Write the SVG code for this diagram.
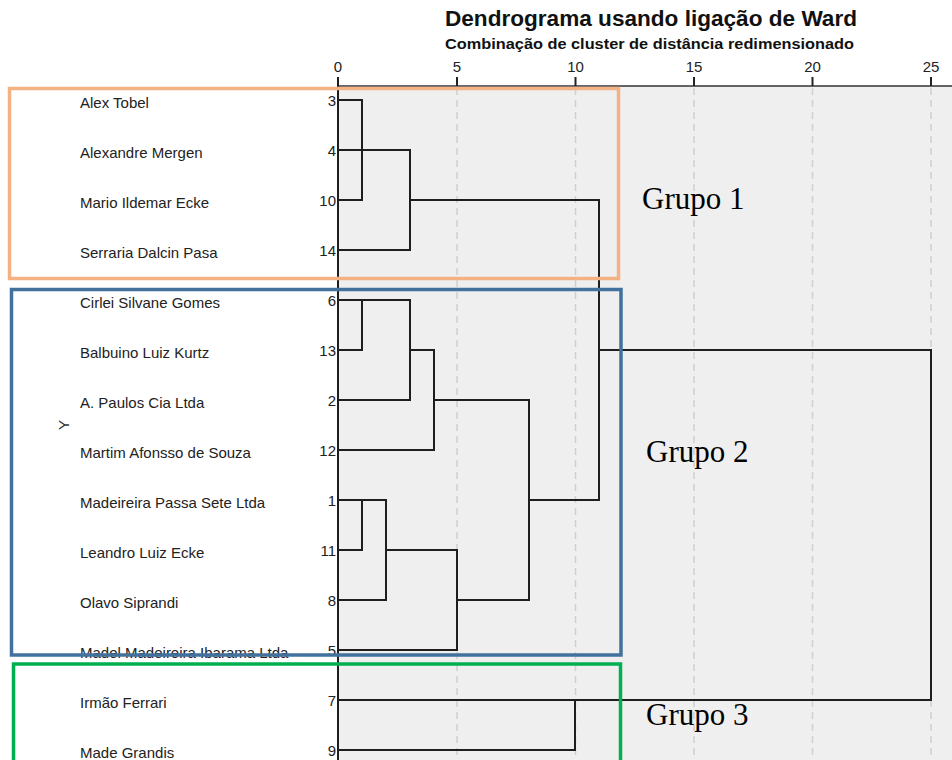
<svg xmlns="http://www.w3.org/2000/svg" width="952" height="760" viewBox="0 0 952 760">
<style>
.name{font-family:"Liberation Sans",Arial,sans-serif;font-size:15px;fill:#222}
.num{font-family:"Liberation Sans",Arial,sans-serif;font-size:15px;fill:#222;text-anchor:end}
.tick{font-family:"Liberation Sans",Arial,sans-serif;font-size:15px;fill:#222;text-anchor:middle}
.grp{font-family:"Liberation Serif","Times New Roman",serif;font-size:31px;fill:#000}
.grid{stroke:#cfcfcf;stroke-width:1.5;stroke-dasharray:7 5}
.ln{stroke:#1e1e1e;stroke-width:2;fill:none;stroke-linecap:square}
.box{fill:none;stroke-width:3.5}
</style>
<rect x="0" y="0" width="952" height="760" fill="#fff"/>
<rect x="338" y="86" width="614" height="674" fill="#efefef"/>
<g id="grid">
<line class="grid" x1="457" y1="88" x2="457" y2="760"/>
<line class="grid" x1="575.5" y1="88" x2="575.5" y2="760"/>
<line class="grid" x1="694" y1="88" x2="694" y2="760"/>
<line class="grid" x1="812.5" y1="88" x2="812.5" y2="760"/>
<line class="grid" x1="931" y1="88" x2="931" y2="760"/>
</g>
<g id="title">
<text x="651" y="26" text-anchor="middle" font-family="'Liberation Sans',Arial,sans-serif" font-size="22" font-weight="bold" fill="#111" textLength="412" lengthAdjust="spacingAndGlyphs">Dendrograma usando ligação de Ward</text>
<text x="649.5" y="49" text-anchor="middle" font-family="'Liberation Sans',Arial,sans-serif" font-size="14.5" font-weight="bold" fill="#111" textLength="409" lengthAdjust="spacingAndGlyphs">Combinação de cluster de distância redimensionado</text>
</g>
<g id="axis">
<text class="tick" x="338" y="72">0</text>
<text class="tick" x="457" y="72">5</text>
<text class="tick" x="575.5" y="72">10</text>
<text class="tick" x="694" y="72">15</text>
<text class="tick" x="812.5" y="72">20</text>
<text class="tick" x="931" y="72">25</text>
<line x1="338" y1="86" x2="952" y2="86" stroke="#333" stroke-width="1.5"/>
<g stroke="#222" stroke-width="2">
<line x1="338" y1="77" x2="338" y2="86"/>
<line x1="457" y1="77" x2="457" y2="86"/>
<line x1="575.5" y1="77" x2="575.5" y2="86"/>
<line x1="694" y1="77" x2="694" y2="86"/>
<line x1="812.5" y1="77" x2="812.5" y2="86"/>
<line x1="931" y1="77" x2="931" y2="86"/>
</g>
<line x1="338" y1="77" x2="338" y2="760" stroke="#1e1e1e" stroke-width="2"/>
<text x="65" y="425" text-anchor="middle" dominant-baseline="middle" font-family="'Liberation Sans',Arial,sans-serif" font-size="15" fill="#333" transform="rotate(-90 65 425)">Y</text>
</g>
<g id="connectors">
<path class="ln" d="M338 100H362M338 150H410M338 200H362M410 200H599M338 250H410"/>
<path class="ln" d="M362 100V200M410 150V250M599 200V500"/>
<path class="ln" d="M338 300H410M338 350H362M410 350H434M599 350H931M338 400H410M434 400H529M338 450H434"/>
<path class="ln" d="M362 300V350M410 300V400M434 350V450M529 400V600"/>
<path class="ln" d="M338 500H386M529 500H599M338 550H362M386 550H457M338 600H386M457 600H529M338 650H457"/>
<path class="ln" d="M362 500V550M386 500V600M457 550V650"/>
<path class="ln" d="M338 700H931M338 750H575M931 350V700M575 700V750"/>
</g>
<g id="leaf-3"><text class="name" x="80" y="107.5">Alex Tobel</text><text class="num" x="336" y="105.5">3</text></g>
<g id="leaf-4"><text class="name" x="80" y="157.5">Alexandre Mergen</text><text class="num" x="336" y="155.5">4</text></g>
<g id="leaf-10"><text class="name" x="80" y="207.5">Mario Ildemar Ecke</text><text class="num" x="336" y="205.5">10</text></g>
<g id="leaf-14"><text class="name" x="80" y="257.5">Serraria Dalcin Pasa</text><text class="num" x="336" y="255.5">14</text></g>
<g id="leaf-6"><text class="name" x="80" y="307.5">Cirlei Silvane Gomes</text><text class="num" x="336" y="305.5">6</text></g>
<g id="leaf-13"><text class="name" x="80" y="357.5">Balbuino Luiz Kurtz</text><text class="num" x="336" y="355.5">13</text></g>
<g id="leaf-2"><text class="name" x="80" y="407.5">A. Paulos Cia Ltda</text><text class="num" x="336" y="405.5">2</text></g>
<g id="leaf-12"><text class="name" x="80" y="457.5">Martim Afonsso de Souza</text><text class="num" x="336" y="455.5">12</text></g>
<g id="leaf-1"><text class="name" x="80" y="507.5">Madeireira Passa Sete Ltda</text><text class="num" x="336" y="505.5">1</text></g>
<g id="leaf-11"><text class="name" x="80" y="557.5">Leandro Luiz Ecke</text><text class="num" x="336" y="555.5">11</text></g>
<g id="leaf-8"><text class="name" x="80" y="607.5">Olavo Siprandi</text><text class="num" x="336" y="605.5">8</text></g>
<g id="leaf-5"><text class="name" x="80" y="657.5">Madel Madeireira Ibarama Ltda</text><text class="num" x="336" y="655.5">5</text></g>
<g id="leaf-7"><text class="name" x="80" y="707.5">Irmão Ferrari</text><text class="num" x="336" y="705.5">7</text></g>
<g id="leaf-9"><text class="name" x="80" y="757.5">Made Grandis</text><text class="num" x="336" y="755.5">9</text></g>
<g id="grupo-1">
<rect class="box" x="9.5" y="88.5" width="609" height="190" stroke="#F4B183"/>
<text class="grp" x="642" y="209">Grupo 1</text>
</g>
<g id="grupo-2">
<rect class="box" x="11.5" y="289.5" width="609.5" height="365.5" stroke="#41719C"/>
<text class="grp" x="646" y="461.5">Grupo 2</text>
</g>
<g id="grupo-3">
<rect class="box" x="13.5" y="664" width="607" height="110" stroke="#00B050"/>
<text class="grp" x="646" y="725">Grupo 3</text>
</g>
</svg>
